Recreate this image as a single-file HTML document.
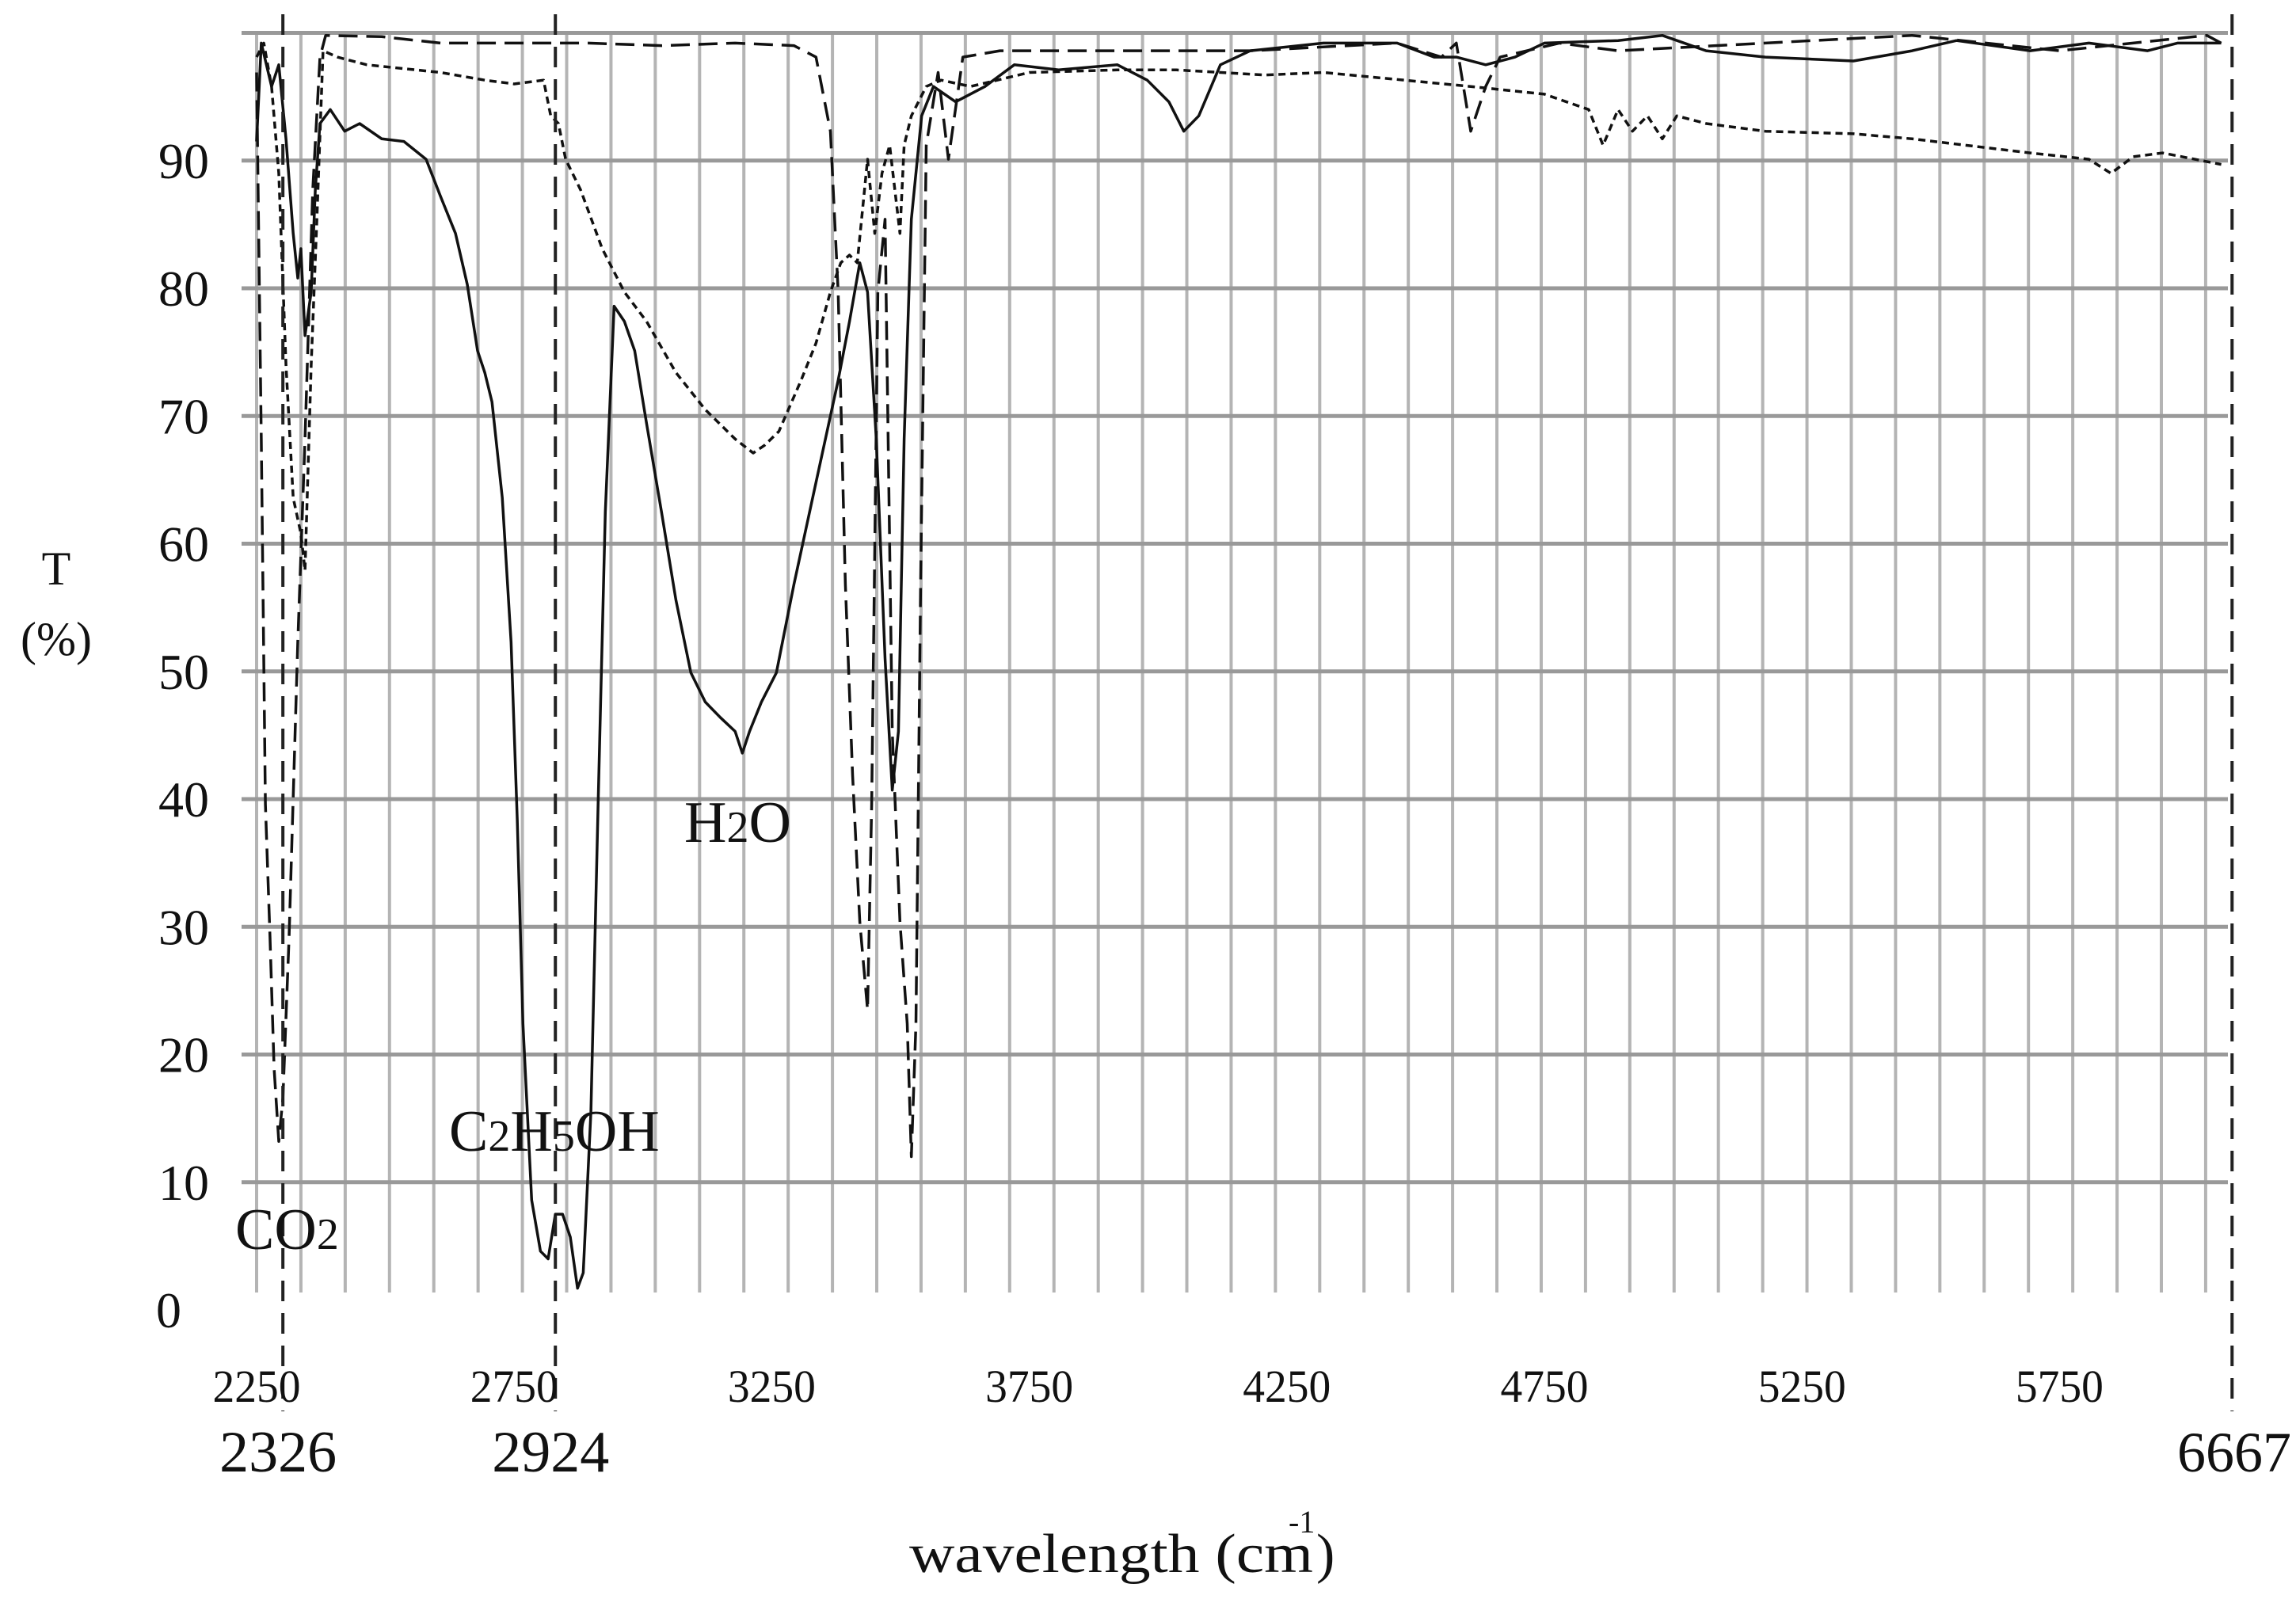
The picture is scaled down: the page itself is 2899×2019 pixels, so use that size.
<!DOCTYPE html>
<html><head><meta charset="utf-8"><style>
html,body{margin:0;padding:0;background:#fff;}
svg{display:block;}
text{font-family:"Liberation Serif",serif;fill:#111;}
</style></head><body>
<svg id="chart" width="2899" height="2019" viewBox="0 0 2899 2019">
<g id="grid"></g>
<g id="series"></g>
<g id="markers"></g>
<g id="labels"></g>
<text x="71" y="738" font-size="60" text-anchor="middle">T</text>
<text x="71" y="827" font-size="60" text-anchor="middle">(%)</text>
<text x="1148" y="1985" font-size="70" textLength="510" lengthAdjust="spacingAndGlyphs">wavelength (cm</text>
<text x="1627" y="1935" font-size="40">-1</text>
<text x="1662" y="1985" font-size="70">)</text>
<text x="297" y="1577" font-size="74">CO<tspan font-size="56">2</tspan></text>
<text x="567" y="1453" font-size="74">C<tspan font-size="56">2</tspan>H<tspan font-size="56">5</tspan>OH</text>
<text x="864" y="1063" font-size="74">H<tspan font-size="56">2</tspan>O</text>
</svg>
<script>
const yTicks=[0,10,20,30,40,50,60,70,80,90];
const xTicks=[2250,2750,3250,3750,4250,4750,5250,5750];
const markerPos=[2301,2830,6085];
const markerLabels=["2326","2924","6667"];
const solidX=[2250,2259,2279,2293,2307,2321,2330,2336,2344,2356,2364,2373,2393,2421,2450,2493,2536,2579,2607,2636,2659,2679,2693,2707,2727,2744,2756,2767,2784,2801,2816,2830,2844,2859,2873,2884,2899,2913,2927,2944,2964,2984,3007,3036,3064,3093,3121,3150,3179,3193,3207,3230,3259,3293,3336,3379,3401,3421,3436,3453,3470,3484,3496,3507,3521,3541,3564,3607,3664,3721,3807,3921,3979,4021,4050,4079,4121,4179,4321,4464,4536,4579,4636,4693,4750,4893,4979,5064,5179,5350,5464,5550,5693,5807,5921,5979,6064];
const solidT=[91.5,99.2,95.8,97.5,91.7,84.3,80.8,83.1,76.3,79.7,87.7,92.9,94.0,92.3,92.9,91.7,91.5,90.1,87.2,84.3,80.3,75.1,73.4,71.1,63.6,52.3,38.4,22.4,8.6,4.6,4.0,7.5,7.5,5.7,1.7,2.9,15.5,39.6,62.5,78.6,77.4,75.1,69.4,62.5,55.6,49.9,47.6,46.4,45.3,43.6,45.3,47.6,49.9,56.8,64.8,72.8,77.4,82.0,79.7,68.2,51.0,40.7,45.3,68.2,85.4,93.5,95.8,94.6,95.8,97.5,97.1,97.5,96.3,94.6,92.3,93.5,97.5,98.6,99.2,99.2,98.1,98.1,97.5,98.1,99.2,99.4,99.8,98.6,98.1,97.8,98.6,99.4,98.6,99.2,98.6,99.2,99.2];
const shortX=[2250,2264,2279,2293,2307,2321,2336,2344,2356,2367,2379,2407,2464,2607,2693,2750,2807,2821,2836,2850,2879,2921,2964,3007,3064,3121,3179,3214,3236,3264,3307,3336,3364,3384,3401,3416,3436,3450,3464,3479,3499,3507,3521,3550,3579,3636,3750,3921,4036,4207,4321,4607,4750,4836,4864,4893,4921,4950,4979,5007,5064,5179,5350,5464,5693,5807,5850,5893,5950,6064];
const shortT=[98.1,99.2,95.8,89.0,74.0,63.6,60.8,57.9,74.0,85.4,98.6,98.1,97.5,96.9,96.3,96.0,96.3,93.5,92.9,90.1,87.7,83.1,79.7,77.4,73.4,70.5,68.2,67.1,67.7,68.8,72.8,75.7,79.7,82.0,82.6,82.0,90.1,84.3,89.0,91.2,84.3,91.2,93.5,95.8,96.3,95.8,96.9,97.1,97.1,96.7,96.9,95.8,95.2,94.0,91.2,94.0,92.3,93.5,91.7,93.5,92.9,92.3,92.1,91.7,90.6,90.1,89.0,90.3,90.6,89.7];
const longX=[2250,2259,2267,2276,2284,2293,2301,2313,2330,2344,2359,2373,2384,2493,2607,2893,3036,3179,3293,3336,3364,3379,3393,3407,3421,3436,3444,3456,3470,3484,3499,3513,3521,3530,3539,3550,3573,3593,3621,3693,3750,4036,4179,4464,4550,4579,4607,4636,4664,4779,4893,5179,5464,5750,6036,6064];
const longT=[96.9,68.2,39.6,29.2,18.9,13.2,16.6,29.2,52.3,68.2,87.7,98.1,99.8,99.7,99.2,99.2,99.0,99.2,99.0,98.1,92.3,79.7,56.8,41.9,30.4,23.5,39.6,79.7,85.4,45.3,30.4,22.4,12.0,22.4,56.8,91.2,96.9,90.1,98.1,98.6,98.6,98.6,98.6,99.2,98.1,99.2,92.3,95.8,98.1,99.2,98.6,99.2,99.8,98.6,99.8,99.2];

const NS="http://www.w3.org/2000/svg";
function xs(u){return 324+(u-2250)*0.6504;}
function ys(t){return 1654-t*16.125;}
function mk(tag,attrs,parent){const e=document.createElementNS(NS,tag);for(const k in attrs)e.setAttribute(k,attrs[k]);parent.appendChild(e);return e;}
const grid=document.getElementById('grid');
for(let i=0;i<45;i++){
  const x=324+i*55.93;
  const l=mk('line',{x1:x,x2:x,y1:42,y2:1632,stroke:'#b4b4b4','stroke-width':4},grid);
  
  
}
const labels=document.getElementById('labels');
yTicks.concat([100]).forEach(t=>{
  if(t>0){
    const l=mk('line',{x1:305,x2:2813,y1:ys(t),y2:ys(t),stroke:'#999','stroke-width':5},grid);
    
    
  }
});
yTicks.forEach(t=>{
  const tx=mk('text',{x:t===0?197:200,y:ys(t)+22,'font-size':64},labels);
  tx.textContent=String(t);
  
  
});
xTicks.forEach(u=>{
  const tx=mk('text',{x:xs(u),y:1770,'font-size':58,'text-anchor':'middle',textLength:111,lengthAdjust:'spacingAndGlyphs'},labels);
  tx.textContent=String(u);
  
  
});
const series=document.getElementById('series');
function drawLine(X,T,dash,name){
  const n=Math.min(X.length,T.length);
  let d='';
  for(let i=0;i<n;i++)d+=(i?'L':'M')+xs(X[i]).toFixed(1)+' '+ys(T[i]).toFixed(1);
  const p=mk('path',{d:d,fill:'none',stroke:'#111','stroke-width':3.5,'stroke-linejoin':'round'},series);
  if(dash)p.setAttribute('stroke-dasharray',dash);
  
  
}
drawLine(solidX,solidT,null,'solid-spectrum-line');
drawLine(shortX,shortT,'9 6','short-dash-spectrum-line');
drawLine(longX,longT,'24 11','long-dash-spectrum-line');
const markers=document.getElementById('markers');
markerPos.forEach((u,i)=>{
  const x=xs(u);
  const l=mk('line',{x1:x,x2:x,y1:18,y2:1782,stroke:'#222','stroke-width':4,'stroke-dasharray':'26 15'},markers);
  
  
  const attrs=i===2?{x:2893,y:1858,'font-size':72,'text-anchor':'end'}:{x:x-6,y:1858,'font-size':74,'text-anchor':'middle'};
  const tx=mk('text',attrs,labels);
  tx.textContent=markerLabels[i];
  
  
});
</script>
</body></html>
